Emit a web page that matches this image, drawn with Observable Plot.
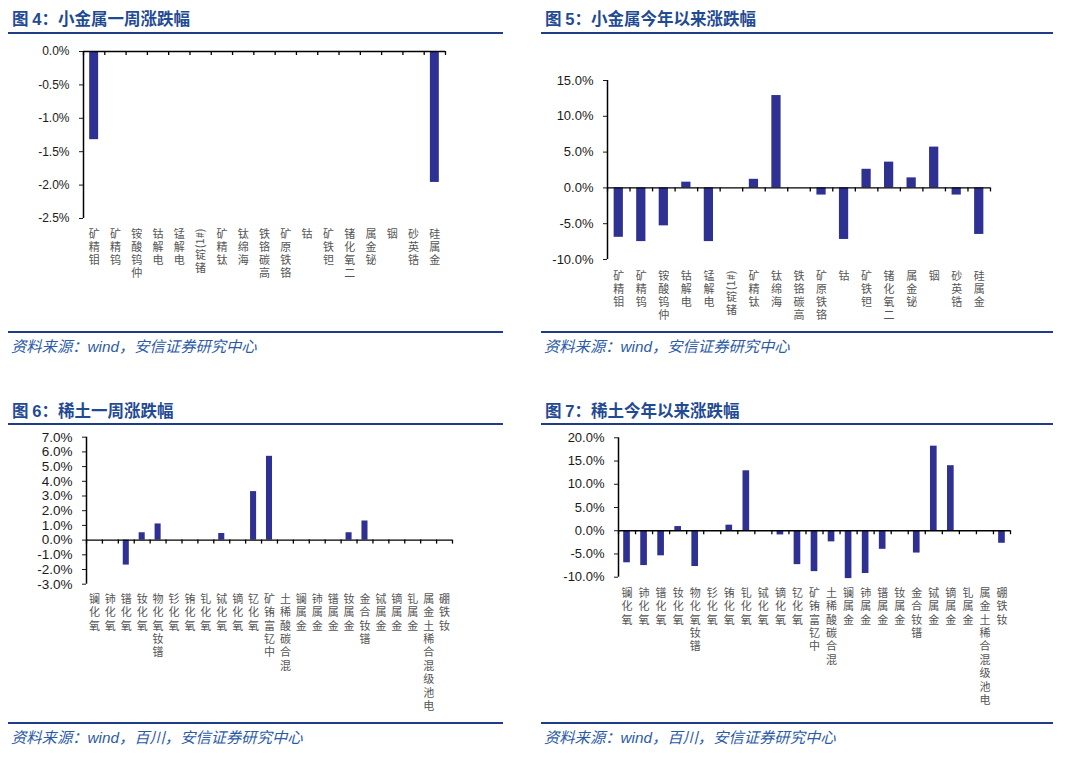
<!DOCTYPE html>
<html><head><meta charset="utf-8">
<script src="https://cdn.jsdelivr.net/npm/d3@7"></script>
<script src="https://cdn.jsdelivr.net/npm/@observablehq/plot@0.6"></script>
<style>
body{margin:0;background:#fff;}
#root{position:relative;width:1080px;height:779px;overflow:hidden;background:#fff;}
.title{position:absolute;font-family:"Noto Sans CJK SC",sans-serif;font-weight:700;font-size:16.5px;color:#1f4a94;white-space:nowrap;line-height:1;}
.title .num{font-family:"Liberation Sans",Arial,sans-serif;font-weight:700;}
.rule{position:absolute;height:2px;background:#1f3c88;}
.src{position:absolute;font-family:"Noto Sans CJK SC",sans-serif;font-style:italic;font-size:15.3px;color:#2b5aa8;white-space:nowrap;line-height:1;}
.src .w{font-family:"Liberation Sans",Arial,sans-serif;}
.chart{position:absolute;}
</style></head><body><div id="root"></div><script>
// ---- data ----
const metalCats = ["钼精矿","钨精矿","仲钨酸铵","电解钴","电解锰","锗锭(1#)","钛精矿","海绵钛","高碳铬铁","铬铁原矿","钴","钽铁矿","二氧化锗","铋金属","铟","锆英砂","金属硅"];
const metalWeek = [-1.32,0,0,0,0,0,0,0,0,0,0,0,0,0,0,0,-1.96];
const metalYtd  = [-6.9,-7.5,-5.3,0.8,-7.5,0,1.2,12.9,0,-1.0,-7.2,2.6,3.6,1.4,5.7,-1.0,-6.5];
const reCats = ["氧化镧","氧化铈","氧化镨","氧化钕","镨钕氧化物","氧化钐","氧化铕","氧化钆","氧化铽","氧化镝","氧化钇","中钇富铕矿","混合碳酸稀土","金属镧","金属铈","金属镨","金属钕","镨钕合金","金属铽","金属镝","金属钆","电池级混合稀土金属","钕铁硼"];
const reWeek = [0,0,-1.7,0.5,1.1,0,0,0,0.45,0,3.3,5.7,0,0,0,0,0.5,1.3,0,0,0,0,0];
const reYtd  = [-6.9,-7.5,-5.4,0.9,-7.7,0,1.2,12.9,0,-0.9,-7.3,-8.8,-2.4,-10.3,-9.2,-4.0,0,-4.8,18.2,14.0,0,0,-2.7];
const ticksMetalWeek = [0,-0.5,-1,-1.5,-2,-2.5];
const ticksMetalYtd  = [15,10,5,0,-5,-10];
const ticksReWeek = [7,6,5,4,3,2,1,0,-1,-2,-3];
const ticksReYtd  = [20,15,10,5,0,-5,-10];
const titles = ["小金属一周涨跌幅","小金属今年以来涨跌幅","稀土一周涨跌幅","稀土今年以来涨跌幅"];
const figNums = ["4","5","6","7"];
const sources = ["资料来源：|wind|，安信证券研究中心","资料来源：|wind|，安信证券研究中心","资料来源：|wind|，百川，安信证券研究中心","资料来源：|wind|，百川，安信证券研究中心"];

const BAR = "#2e3192";
const root = document.getElementById("root");

function addDiv(cls, css, html){
  const d = document.createElement("div");
  d.className = cls; Object.assign(d.style, css);
  if (html != null) d.innerHTML = html;
  root.appendChild(d); return d;
}

function tokens(s){ return s.match(/\([^)]*\)|./g); }

function panel(p){
  const data = p.cats.map((c,i)=>({c, v: p.values[i]}));
  const mb = p.height - p.mt - p.plotH;
  const step = (p.width - p.ml - p.mr)/p.cats.length;
  const inset = step*(1 - p.barFrac)/2;
  const span = p.domain[1]-p.domain[0];
  const tickLen = 4*span/p.plotH;
  const fsL = 11;
  const lh = p.lhPx/fsL;
  const chunkPx = 21;
  const mainText = d => tokens(d.c).filter(x=>x.length===1).reverse().join("\n");
  const hasChunk = d => tokens(d.c).some(x=>x.length>1);
  const chunks = data.filter(hasChunk);
  const plain = data.filter(d=>!hasChunk(d));
  const last = p.cats[p.cats.length-1];
  const labelFont = "'Noto Sans CJK SC', sans-serif";
  const chart = Plot.plot({
    width: p.width, height: p.height,
    marginLeft: p.ml, marginRight: p.mr, marginTop: p.mt, marginBottom: mb,
    x: {type:"band", domain:p.cats, padding:0, round:false, axis:null},
    y: {domain:p.domain, axis:null},
    style: {background:"transparent", fontFamily:"'Liberation Sans', Arial, sans-serif", overflow:"visible"},
    marks: [
      Plot.barY(data, {x:"c", y:"v", fill:BAR, insetLeft:inset, insetRight:inset}),
      Plot.ruleY([0], {stroke:"#000", strokeWidth:1.4}),
      Plot.ruleX(p.cats, {x:d=>d, y1:0, y2:-tickLen, dx:-step/2, stroke:"#000", strokeWidth:1.3}),
      Plot.ruleX([last], {x:d=>d, y1:0, y2:-tickLen, dx:step/2, stroke:"#000", strokeWidth:1.3}),
      Plot.ruleX([p.cats[0]], {x:d=>d, y1:p.domain[0], y2:p.domain[1], dx:-step/2, stroke:"#000", strokeWidth:1.5}),
      Plot.axisY({ticks:p.ticks, tickFormat:d=>d.toFixed(1)+"%", tickSize:4, tickPadding:10, fontSize:p.fs, color:"#1a1a1a", label:null, anchor:"left"}),
      Plot.text(plain, {x:"c", text:mainText, frameAnchor:"bottom", lineAnchor:"top", dy:p.labelDy, fontSize:fsL, lineHeight:lh, fill:"#555", fontFamily:labelFont}),
      Plot.text(chunks, {x:"c", text:d=>tokens(d.c).filter(x=>x.length>1).join(""), frameAnchor:"bottom", rotate:-90, textAnchor:"end", lineAnchor:"middle", dy:p.labelDy, fontSize:11, fill:"#555", fontFamily:labelFont}),
      Plot.text(chunks, {x:"c", text:mainText, frameAnchor:"bottom", lineAnchor:"top", dy:p.labelDy+chunkPx, fontSize:fsL, lineHeight:lh, fill:"#555", fontFamily:labelFont})
    ]
  });
  const wrap = addDiv("chart", {left:p.left+"px", top:p.top+"px"});
  wrap.appendChild(chart);
}

const layout = [
  {cats:metalCats, values:metalWeek, domain:[-2.5,0], ticks:ticksMetalWeek, left:0, top:40, width:540, height:290, ml:83, mr:95, mt:11, plotH:167, fs:12, labelDy:10, barFrac:0.42, lhPx:13,
   tx:12, ty:10, lx1:8, lx2:503, ly:32, bly:331, sy:338},
  {cats:metalCats, values:metalYtd, domain:[-10,15], ticks:ticksMetalYtd, left:540, top:60, width:540, height:268, ml:67, mr:90, mt:20, plotH:179, fs:13, labelDy:11, barFrac:0.41, lhPx:13,
   tx:545, ty:10, lx1:541, lx2:1053, ly:32, bly:331, sy:338},
  {cats:reCats, values:reWeek, domain:[-3,7], ticks:ticksReWeek, left:0, top:430, width:540, height:290, ml:86, mr:88, mt:6.7, plotH:147, fs:13.5, labelDy:9, barFrac:0.38, lhPx:13.4,
   tx:12, ty:402, lx1:8, lx2:503, ly:423, bly:722, sy:729},
  {cats:reCats, values:reYtd, domain:[-10,20], ticks:ticksReYtd, left:540, top:430, width:540, height:290, ml:78, mr:70, mt:7.3, plotH:139.4, fs:13, labelDy:10, barFrac:0.39, lhPx:13.4,
   tx:545, ty:402, lx1:541, lx2:1053, ly:423, bly:722, sy:729}
];

layout.forEach((p,i)=>{
  addDiv("title", {left:p.tx+"px", top:p.ty+"px"}, `图 <span class="num">${figNums[i]}</span>：${titles[i]}`);
  addDiv("rule", {left:p.lx1+"px", top:p.ly+"px", width:(p.lx2-p.lx1)+"px"});
  panel(p);
  addDiv("rule", {left:p.lx1+"px", top:p.bly+"px", width:(p.lx2-p.lx1)+"px"});
  const parts = sources[i].split("|");
  addDiv("src", {left:(p.lx1+3)+"px", top:p.sy+"px"}, `${parts[0]}<span class="w">${parts[1]}</span>${parts[2]}`);
});
</script></body></html>
